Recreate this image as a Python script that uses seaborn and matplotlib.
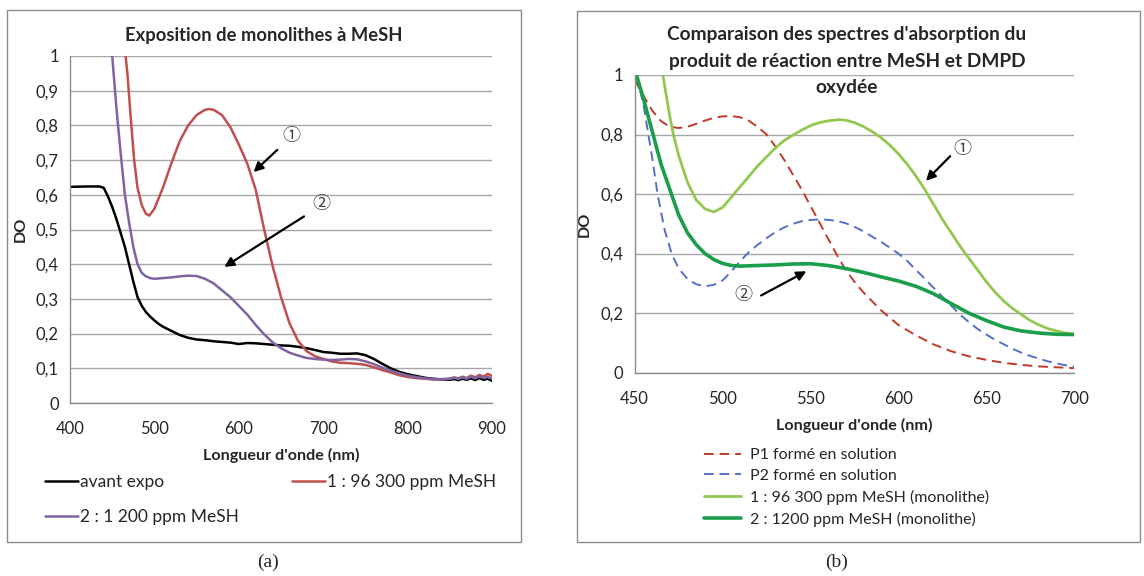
import pandas as pd
import matplotlib.pyplot as plt
import seaborn as sns
from matplotlib.patches import Rectangle

# ---- (a) Exposition de monolithes à MeSH ----
wl_black = [400, 420, 435, 440, 445, 450, 455, 460, 465, 470, 475, 480, 485, 490, 495, 500, 505, 510, 520,
            530, 540, 550, 560, 570, 580, 590, 600, 610, 620, 630, 640, 650, 660, 670, 680, 690, 700, 710,
            720, 730, 740, 750, 760, 770, 780, 790, 800, 810, 820, 830, 840, 850, 855, 860, 865, 870, 875,
            880, 885, 890, 895, 900]
do_black = [0.623, 0.624, 0.624, 0.62, 0.595, 0.565, 0.53, 0.49, 0.45, 0.40, 0.35, 0.305, 0.28, 0.262, 0.249,
            0.238, 0.228, 0.22, 0.208, 0.196, 0.188, 0.183, 0.181, 0.178, 0.176, 0.174, 0.170, 0.173, 0.172,
            0.170, 0.168, 0.166, 0.165, 0.162, 0.158, 0.153, 0.147, 0.145, 0.142, 0.142, 0.143, 0.138, 0.127,
            0.113, 0.100, 0.090, 0.083, 0.078, 0.073, 0.070, 0.068, 0.067, 0.069, 0.066, 0.070, 0.067, 0.071,
            0.066, 0.072, 0.067, 0.070, 0.064]

wl_red = [460, 465, 468, 472, 476, 480, 485, 490, 494, 500, 510, 520, 530, 540, 550, 560, 565, 570, 580, 590,
          600, 610, 620, 630, 640, 650, 660, 670, 680, 690, 700, 710, 720, 730, 740, 750, 760, 770, 780, 790,
          800, 810, 820, 830, 840, 850, 855, 860, 865, 870, 875, 880, 885, 890, 895, 900]
do_red = [1.15, 1.02, 0.95, 0.82, 0.70, 0.62, 0.57, 0.545, 0.54, 0.56, 0.62, 0.69, 0.755, 0.80, 0.83, 0.845,
          0.847, 0.845, 0.83, 0.795, 0.745, 0.69, 0.615, 0.50, 0.395, 0.305, 0.23, 0.18, 0.15, 0.135, 0.127,
          0.12, 0.116, 0.115, 0.113, 0.11, 0.103, 0.095, 0.088, 0.08, 0.075, 0.072, 0.07, 0.068, 0.068, 0.07,
          0.074, 0.071, 0.076, 0.072, 0.079, 0.074, 0.081, 0.076, 0.084, 0.078]

wl_purple = [445, 450, 455, 460, 465, 470, 475, 480, 485, 490, 495, 500, 510, 520, 530, 540, 550, 560, 570,
             580, 590, 600, 610, 620, 630, 640, 650, 660, 670, 680, 690, 700, 710, 720, 730, 740, 750, 760,
             770, 780, 790, 800, 810, 820, 830, 840, 850, 855, 860, 865, 870, 875, 880, 885, 890, 895, 900]
do_purple = [1.1, 1.0, 0.85, 0.72, 0.60, 0.52, 0.45, 0.40, 0.375, 0.365, 0.36, 0.358, 0.36, 0.362, 0.365,
             0.367, 0.366, 0.358, 0.345, 0.325, 0.305, 0.28, 0.255, 0.225, 0.198, 0.175, 0.158, 0.145, 0.137,
             0.13, 0.127, 0.125, 0.124, 0.125, 0.127, 0.126, 0.12, 0.112, 0.102, 0.093, 0.086, 0.079, 0.075,
             0.071, 0.069, 0.069, 0.07, 0.073, 0.069, 0.074, 0.070, 0.076, 0.071, 0.077, 0.072, 0.075, 0.070]

# ---- (b) Comparaison des spectres ----
wl_p1 = [450, 455, 460, 465, 470, 475, 480, 485, 490, 495, 500, 505, 510, 515, 520, 525, 530, 535, 540, 545,
         550, 555, 560, 565, 570, 575, 580, 585, 590, 595, 600, 610, 620, 630, 640, 650, 660, 670, 680, 690, 700]
do_p1 = [0.983, 0.93, 0.88, 0.845, 0.826, 0.822, 0.826, 0.836, 0.847, 0.856, 0.861, 0.862, 0.858, 0.846, 0.825,
         0.80, 0.76, 0.715, 0.665, 0.615, 0.56, 0.505, 0.45, 0.395, 0.345, 0.305, 0.27, 0.24, 0.21, 0.185, 0.16,
         0.125, 0.095, 0.072, 0.055, 0.043, 0.033, 0.026, 0.021, 0.018, 0.015]

wl_p2 = [451, 455, 460, 463, 467, 471, 475, 480, 485, 490, 495, 500, 505, 510, 515, 520, 525, 530, 535, 540,
         545, 550, 557, 565, 570, 575, 580, 585, 590, 595, 600, 605, 610, 615, 620, 625, 630, 635, 640, 645,
         650, 655, 660, 665, 670, 675, 680, 685, 690, 695, 700]
do_p2 = [1.0, 0.9, 0.72, 0.60, 0.48, 0.40, 0.35, 0.315, 0.297, 0.29, 0.295, 0.31, 0.34, 0.375, 0.405, 0.43,
         0.452, 0.472, 0.488, 0.50, 0.509, 0.513, 0.515, 0.51, 0.502, 0.49, 0.475, 0.457, 0.44, 0.42, 0.40,
         0.375, 0.345, 0.315, 0.285, 0.255, 0.225, 0.195, 0.17, 0.147, 0.128, 0.11, 0.095, 0.08, 0.067, 0.056,
         0.047, 0.038, 0.031, 0.025, 0.02]

wl_m1 = [466, 468, 470, 472, 475, 480, 485, 490, 495, 500, 505, 510, 515, 520, 525, 530, 535, 540, 545, 550,
         555, 560, 566, 570, 575, 580, 585, 590, 595, 600, 605, 610, 615, 620, 625, 630, 635, 640, 645, 650,
         655, 660, 665, 670, 675, 680, 685, 690, 695, 700]
do_m1 = [1.0, 0.93, 0.86, 0.80, 0.73, 0.64, 0.58, 0.55, 0.54, 0.555, 0.59, 0.625, 0.66, 0.695, 0.725, 0.755,
         0.78, 0.798, 0.815, 0.83, 0.84, 0.846, 0.85, 0.848, 0.84, 0.827, 0.81, 0.79, 0.765, 0.735, 0.70, 0.66,
         0.615, 0.565, 0.515, 0.47, 0.425, 0.385, 0.345, 0.305, 0.27, 0.24, 0.215, 0.195, 0.175, 0.16, 0.148,
         0.14, 0.133, 0.13]

wl_m2 = [451, 455, 460, 465, 470, 475, 480, 485, 490, 495, 500, 505, 510, 520, 530, 540, 550, 560, 570, 580,
         590, 600, 610, 620, 630, 640, 650, 660, 670, 680, 690, 700]
do_m2 = [1.0, 0.92, 0.81, 0.70, 0.615, 0.53, 0.47, 0.43, 0.40, 0.38, 0.367, 0.36, 0.358, 0.36, 0.362, 0.365,
         0.366, 0.36, 0.35, 0.337, 0.322, 0.308, 0.29, 0.265, 0.232, 0.20, 0.175, 0.153, 0.14, 0.133, 0.129,
         0.128]

sns.set_style("white")
plt.rcParams['font.family'] = ['Lato', 'DejaVu Sans']
circ = ['Noto Sans CJK JP', 'DejaVu Sans']

fig = plt.figure(figsize=(11.44, 5.76), dpi=100)
axa = fig.add_axes([0.0612, 0.3003, 0.3689, 0.6025])
axb = fig.add_axes([0.5548, 0.3530, 0.3843, 0.5168])

# panel frames
fig.patches.append(Rectangle((7 / 1144, 1 - 542 / 576), 514 / 1144, 532 / 576, transform=fig.transFigure,
                             fill=False, edgecolor='#8c8c8c', lw=1))
fig.patches.append(Rectangle((577 / 1144, 1 - 542 / 576), 563 / 1144, 531 / 576, transform=fig.transFigure,
                             fill=False, edgecolor='#8c8c8c', lw=1))


def line(ax, x, y, **kw):
    df = pd.DataFrame({"x": x, "y": y})
    sns.lineplot(data=df, x="x", y="y", ax=ax, sort=False, estimator=None, **kw)


line(axa, wl_black, do_black, color='black', lw=1.8, label='avant expo')
line(axa, wl_red, do_red, color='#c0504d', lw=1.8, label='1 : 96 300 ppm MeSH')
line(axa, wl_purple, do_purple, color='#8064a2', lw=1.8, label='2 : 1 200 ppm MeSH')

line(axb, wl_p1, do_p1, color='#c0392b', lw=1.4, linestyle=(0, (5, 3)), label='P1 formé en solution')
line(axb, wl_p2, do_p2, color='#5470c6', lw=1.4, linestyle=(0, (5, 3)), label='P2 formé en solution')
line(axb, wl_m1, do_m1, color='#92c850', lw=2.0, label='1 : 96 300 ppm MeSH (monolithe)')
line(axb, wl_m2, do_m2, color='#1a9e4a', lw=2.6, label='2 : 1200 ppm MeSH (monolithe)')

for ax, xt, yt in [(axa, range(400, 901, 100), [i / 10 for i in range(11)]),
                   (axb, range(450, 701, 50), [i / 5 for i in range(6)])]:
    ax.set_xlim(xt[0], xt[-1])
    ax.set_ylim(0, 1)
    ax.set_xticks(list(xt))
    ax.set_yticks(yt)
    ax.set_yticklabels(['0' if v == 0 else ('1' if v == 1 else f"{v:.1f}".replace('.', ',')) for v in yt])
    ax.grid(axis='y', color='#a6a6a6', lw=1)
    ax.set_axisbelow(True)
    for s in ['top', 'right']:
        ax.spines[s].set_visible(False)
    for s in ['left', 'bottom']:
        ax.spines[s].set_color('#8c8c8c')
        ax.spines[s].set_linewidth(1)
    ax.tick_params(axis='x', direction='inout', length=8, color='#8c8c8c', labelsize=12, pad=9)
    ax.tick_params(axis='y', length=0, labelsize=12, pad=8)
    ax.set_xlabel("Longueur d'onde (nm)", fontsize=11.6, fontweight='bold', labelpad=8)
    ax.set_ylabel("DO", fontsize=11.6, fontweight='bold', labelpad=6)
    ax.get_legend().remove()

# titles
fig.text(264 / 1144, 1 - 36 / 576, "Exposition de monolithes à MeSH", ha='center', va='center',
         fontsize=13.2, fontweight='bold')
fig.text(847 / 1144, 1 - 61 / 576, "Comparaison des spectres d'absorption du\nproduit de réaction entre MeSH et DMPD\noxydée",
         ha='center', va='center', fontsize=13.8, fontweight='bold', linespacing=1.65)

# annotations (a)
axa.annotate('', xy=(615, 0.66), xytext=(648, 0.735),
             arrowprops=dict(arrowstyle='-|>', color='black', lw=1.6, mutation_scale=14))
axa.text(662, 0.77, '①', family=circ, fontsize=13, ha='center', va='center', color='#404040')
axa.annotate('', xy=(580, 0.388), xytext=(680, 0.542),
             arrowprops=dict(arrowstyle='-|>', color='black', lw=1.6, mutation_scale=14))
axa.text(698, 0.573, '②', family=circ, fontsize=13, ha='center', va='center', color='#404040')

# annotations (b)
axb.annotate('', xy=(614.5, 0.638), xytext=(630.5, 0.734),
             arrowprops=dict(arrowstyle='-|>', color='black', lw=1.6, mutation_scale=14))
axb.text(636.5, 0.75, '①', family=circ, fontsize=13, ha='center', va='center', color='#404040')
axb.annotate('', xy=(549, 0.345), xytext=(520.5, 0.255),
             arrowprops=dict(arrowstyle='-|>', color='black', lw=1.6, mutation_scale=14))
axb.text(512, 0.261, '②', family=circ, fontsize=13, ha='center', va='center', color='#404040')

# legends
h, l = axa.get_legend_handles_labels()
order = [0, 2, 1]
fig.legend([h[i] for i in order], [l[i] for i in order], ncol=2, loc='upper left',
           bbox_to_anchor=(45 / 1144, 1 - 474 / 576), frameon=False, fontsize=12.5,
           handlelength=1.9, handletextpad=0.1, columnspacing=3.1, borderpad=0, borderaxespad=0,
           labelspacing=1.1)

h, l = axb.get_legend_handles_labels()
fig.legend(h, l, loc='upper left', bbox_to_anchor=(704 / 1144, 1 - 448 / 576), frameon=False,
           fontsize=11.5, handlelength=2.3, handletextpad=0.6, borderpad=0, borderaxespad=0,
           labelspacing=0.42)

fig.text(268 / 1144, 1 - 562 / 576, "(a)", ha='center', va='center', fontsize=14, family='Liberation Serif')
fig.text(837 / 1144, 1 - 562 / 576, "(b)", ha='center', va='center', fontsize=14, family='Liberation Serif')

fig.savefig("out.png", dpi=100)
